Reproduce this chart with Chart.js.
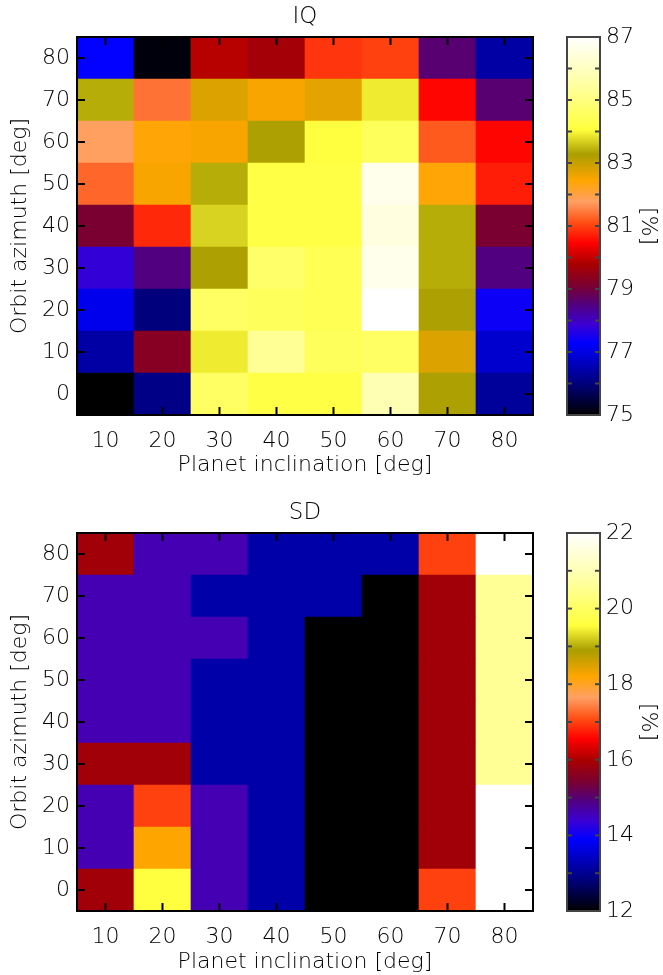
<!DOCTYPE html>
<html>
<head>
<meta charset="utf-8">
<script src="https://cdn.jsdelivr.net/npm/chart.js@4.4.0/dist/chart.umd.min.js"></script>
<style>
  html, body { margin: 0; padding: 0; background: #fff; overflow: hidden; }
  canvas { position: absolute; }
</style>
</head>
<body>
<canvas id="iqMap" width="545" height="490" style="left:0;top:0"></canvas>
<canvas id="iqBar" width="123" height="490" style="left:540px;top:0"></canvas>
<canvas id="sdMap" width="545" height="479" style="left:0;top:496px"></canvas>
<canvas id="sdBar" width="123" height="479" style="left:540px;top:496px"></canvas>
<script>
// axes
const inclination = ["10", "20", "30", "40", "50", "60", "70", "80"];
const azimuth = [0, 10, 20, 30, 40, 50, 60, 70, 80];

// IQ [%], one row per azimuth (0 .. 80), columns follow inclination
const iqValues = [
  [75.0, 76.1, 84.6, 84.2, 84.2, 85.8, 83.3, 76.3],
  [76.4, 79.3, 83.9, 85.3, 84.5, 84.6, 82.8, 76.8],
  [77.1, 76.0, 84.6, 84.5, 84.4, 87.0, 83.3, 77.4],
  [77.8, 78.5, 83.3, 84.7, 84.4, 86.7, 83.4, 78.5],
  [79.1, 80.8, 83.7, 84.2, 84.2, 86.5, 83.4, 79.1],
  [81.3, 82.5, 83.4, 84.2, 84.2, 86.7, 82.4, 80.7],
  [81.8, 82.4, 82.5, 83.3, 84.1, 84.5, 81.2, 80.5],
  [83.4, 81.4, 82.8, 82.5, 82.7, 83.9, 80.5, 78.6],
  [77.3, 75.1, 79.9, 79.7, 80.9, 81.0, 78.6, 76.4]
];

// SD [%]
const sdValues = [
  [15.9, 19.6, 14.6, 13.2, 12.0, 12.0, 17.0, 22.0],
  [14.6, 18.2, 14.6, 13.2, 12.0, 12.0, 15.9, 22.0],
  [14.6, 17.0, 14.6, 13.2, 12.0, 12.0, 15.9, 22.0],
  [15.9, 15.9, 13.2, 13.2, 12.0, 12.0, 15.9, 20.6],
  [14.6, 14.6, 13.2, 13.2, 12.0, 12.0, 15.9, 20.6],
  [14.6, 14.6, 13.2, 13.2, 12.0, 12.0, 15.9, 20.6],
  [14.6, 14.6, 14.6, 13.2, 12.0, 12.0, 15.9, 20.6],
  [14.6, 14.6, 13.2, 13.2, 13.2, 12.0, 15.9, 20.6],
  [15.9, 14.6, 14.6, 13.2, 13.2, 13.2, 17.0, 22.0]
];

const iqTicks = [75, 77, 79, 81, 83, 85, 87];
const sdTicks = [12, 14, 16, 18, 20, 22];

// colour table, black -> blue -> purple -> red -> orange -> olive -> yellow -> white
const stops = [
  [0.00, [0, 0, 0]],
  [0.08, [0, 0, 120]],
  [0.19, [0, 0, 255]],
  [0.24, [60, 0, 210]],
  [0.29, [80, 0, 130]],
  [0.34, [120, 0, 50]],
  [0.40, [170, 0, 0]],
  [0.455, [255, 0, 0]],
  [0.51, [255, 80, 20]],
  [0.565, [255, 160, 100]],
  [0.62, [255, 165, 0]],
  [0.69, [170, 158, 0]],
  [0.755, [255, 255, 60]],
  [0.86, [255, 255, 150]],
  [1.00, [255, 255, 255]]
];

function cmap(f) {
  f = Math.max(0, Math.min(1, f));
  for (let i = 1; i < stops.length; i++) {
    if (f <= stops[i][0]) {
      const [f0, c0] = stops[i - 1];
      const [f1, c1] = stops[i];
      const t = (f - f0) / (f1 - f0);
      const c = c0.map((v, k) => Math.round(v + (c1[k] - v) * t));
      return "rgb(" + c.join(",") + ")";
    }
  }
  return "rgb(255,255,255)";
}

const FONT = '"DejaVu Sans", sans-serif';
const TXT = "#000";
Chart.defaults.font.family = FONT;
Chart.defaults.font.weight = "200";
Chart.defaults.color = TXT;
Chart.defaults.animation = false;

// box + inward ticks on all four sides
const frameTicks = {
  id: "frameTicks",
  afterDatasetsDraw(chart, args, opts) {
    const { ctx, chartArea: a, scales } = chart;
    ctx.save();
    ctx.strokeStyle = opts.color;
    ctx.lineWidth = opts.width;
    const line = (x1, y1, x2, y2) => {
      ctx.beginPath();
      ctx.moveTo(x1, y1);
      ctx.lineTo(x2, y2);
      ctx.stroke();
    };
    if (opts.xTicks) {
      scales.x.ticks.forEach((t, i) => {
        const x = scales.x.getPixelForTick(i);
        line(x, a.bottom, x, a.bottom - opts.len);
        line(x, a.top, x, a.top + opts.len);
      });
    }
    const yv = opts.yValues || scales.y.ticks.map((t) => t.value);
    yv.forEach((v) => {
      const y = scales.y.getPixelForValue(v);
      line(a.left, y, a.left + opts.len, y);
      line(a.right, y, a.right - opts.len, y);
    });
    ctx.strokeRect(a.left, a.top, a.right - a.left, a.bottom - a.top);
    ctx.restore();
  }
};

function heatmap(id, title, values, ticks, xAxisH, titlePad) {
  const lo = ticks[0], hi = ticks[ticks.length - 1];
  const datasets = azimuth.map((az, r) => ({
    data: inclination.map(() => [az - 5, az + 5]),
    backgroundColor: values[r].map((v) => cmap((v - lo) / (hi - lo))),
    grouped: false,
    barPercentage: 1,
    categoryPercentage: 1,
    borderWidth: 0
  }));
  new Chart(document.getElementById(id), {
    type: "bar",
    data: { labels: inclination, datasets: datasets },
    plugins: [frameTicks],
    options: {
      responsive: false,
      layout: { padding: { right: 12 } },
      plugins: {
        legend: { display: false },
        tooltip: { enabled: false },
        title: {
          display: true,
          text: title,
          fullSize: false,
          color: TXT,
          font: { size: 23, lineHeight: 1, weight: "200" },
          padding: { top: 6, bottom: 8 }
        },
        frameTicks: { color: "#000", width: 2, len: 8, xTicks: true }
      },
      scales: {
        x: {
          grid: { display: false, drawTicks: false },
          border: { display: false },
          ticks: { padding: 13, font: { size: 22 } },
          title: {
            display: true,
            text: "Planet inclination [deg]",
            font: { size: 22, lineHeight: 1.2 },
            padding: { top: 0, bottom: titlePad - 1 }
          },
          afterFit: (s) => { s.height = xAxisH; }
        },
        y: {
          min: -5,
          max: 85,
          grid: { display: false, drawTicks: false },
          border: { display: false },
          afterBuildTicks: (s) => { s.ticks = azimuth.map((v) => ({ value: v })); },
          ticks: { padding: 7, font: { size: 22 } },
          title: {
            display: true,
            text: "Orbit azimuth [deg]",
            font: { size: 22, lineHeight: 1.2 },
            padding: { top: 7, bottom: 0 }
          },
          afterFit: (s) => { s.width = 77; }
        }
      }
    }
  });
}

function colorbar(id, ticks, bottomPad) {
  const lo = ticks[0], hi = ticks[ticks.length - 1];
  const minor = [];
  for (let v = lo; v <= hi; v++) minor.push(v);
  new Chart(document.getElementById(id), {
    type: "bar",
    data: {
      labels: [""],
      datasets: [{
        data: [[lo, hi]],
        barPercentage: 1,
        categoryPercentage: 1,
        borderWidth: 0,
        backgroundColor: (c) => {
          const a = c.chart.chartArea;
          if (!a) return null;
          const g = c.chart.ctx.createLinearGradient(0, a.bottom, 0, a.top);
          stops.forEach(([f, col]) => g.addColorStop(f, "rgb(" + col.join(",") + ")"));
          return g;
        }
      }]
    },
    plugins: [frameTicks],
    options: {
      responsive: false,
      layout: { padding: { left: 27, top: 37, bottom: bottomPad } },
      plugins: {
        legend: { display: false },
        tooltip: { enabled: false },
        frameTicks: { color: "#444", width: 2, len: 5, xTicks: false, yValues: minor }
      },
      scales: {
        x: { display: false },
        y: {
          position: "right",
          min: lo,
          max: hi,
          grid: { display: false, drawTicks: false },
          border: { display: false },
          afterBuildTicks: (s) => { s.ticks = ticks.map((v) => ({ value: v })); },
          ticks: { padding: 6, font: { size: 22 } },
          title: {
            display: true,
            text: "[%]",
            font: { size: 22, lineHeight: 1.2 },
            padding: { top: 2, bottom: 0 }
          },
          afterFit: (s) => { s.width = 63; }
        }
      }
    }
  });
}

heatmap("iqMap", "IQ", iqValues, iqTicks, 75, 13);
colorbar("iqBar", iqTicks, 75);
heatmap("sdMap", "SD", sdValues, sdTicks, 64, 1);
colorbar("sdBar", sdTicks, 64);
</script>
</body>
</html>
